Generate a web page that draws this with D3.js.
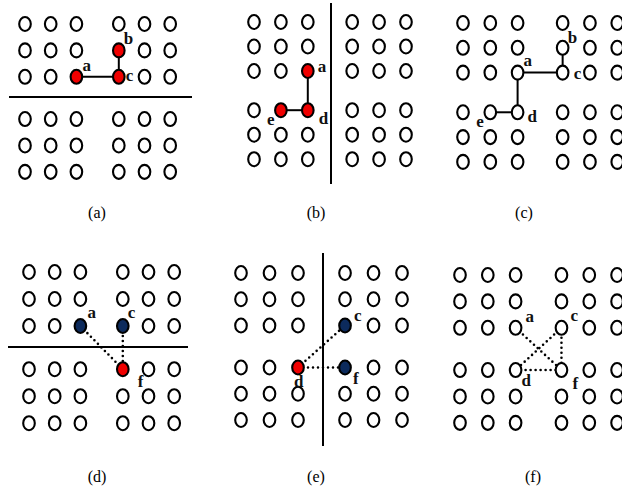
<!DOCTYPE html>
<html><head><meta charset="utf-8">
<script src="https://cdn.jsdelivr.net/npm/d3@7"></script>
<style>body{margin:0;background:#fff}svg{display:block}
text{font-family:"Liberation Serif","Times New Roman","DejaVu Serif",serif}</style>
</head><body>
<script>
// grid units of the 6x6 node lattice (gap between the two halves)
const colUnits = [0, 1, 2, 3.65, 4.65, 5.65];
const rowUnits = [0, 1, 2, 3.6, 4.6, 5.6];
const panelNames = ["(a)", "(b)", "(c)", "(d)", "(e)", "(f)"];
// highlighted nodes per panel: [name, col, row, fill]
const nodesA = [["a",2,2,"red"],["b",3,1,"red"],["c",3,2,"red"]];
const nodesB = [["a",2,2,"red"],["d",2,3,"red"],["e",1,3,"red"]];
const nodesC = [["a",2,2,"white"],["b",3,1,"white"],["c",3,2,"white"],["d",2,3,"white"],["e",1,3,"white"]];
const nodesD = [["a",2,2,"navy"],["c",3,2,"navy"],["f",3,3,"red"]];
const nodesE = [["c",3,2,"navy"],["d",2,3,"red"],["f",3,3,"navy"]];
const nodesF = [["a",2,2,"white"],["c",3,2,"white"],["d",2,3,"white"],["f",3,3,"white"]];
// edges per panel
const edgesA = [["a","c"],["c","b"]];
const edgesB = [["a","d"],["d","e"]];
const edgesC = [["a","c"],["c","b"],["a","d"],["d","e"]];
const edgesD = [["a","f"],["c","f"]];
const edgesE = [["d","c"],["d","f"]];
const edgesF = [["a","f"],["c","d"],["c","f"],["d","f"]];

const W = 622, H = 490;
const fills = {red:"#f00000", navy:"#0c2a5c", white:"#ffffff"};
const svg = d3.select("body").append("svg").attr("width", W).attr("height", H);

// layout (pixel placement of each panel)
const layout = [
  {x0:25, dx:25.7, y0:24, dy:26.4, cap:[97,218], sep:{o:"h", at:97, from:9, to:192}, dotted:false,
   lab:{a:[6,-6],b:[5,-6],c:[7,4]}},
  {x0:254, dx:26.9, y0:22, dy:24.5, cap:[316,218], sep:{o:"v", at:331, from:3, to:184}, dotted:false,
   lab:{a:[10,1],d:[11,14],e:[-14,15]}},
  {x0:463, dx:27.3, y0:23, dy:24.8, cap:[524,218], sep:null, dotted:false,
   lab:{a:[6,-7],b:[5,-5],c:[11,6],d:[10,10],e:[-14,15]}},
  {x0:29, dx:25.7, y0:272, dy:27, cap:[97,482], sep:{o:"h", at:347, from:8, to:188}, dotted:true,
   lab:{a:[7,-8],c:[5,-8],f:[15,18]}},
  {x0:241, dx:28.5, y0:273, dy:26.25, cap:[316,482], sep:{o:"v", at:323, from:253, to:446}, dotted:true,
   lab:{c:[9,-5],f:[8,16],d:[-4,19]}},
  {x0:460, dx:27.8, y0:275, dy:26.4, cap:[533,482], sep:null, dotted:true,
   lab:{a:[10,-6],c:[9,-7],d:[6,16],f:[11,19]}}
];
const panelNodes = [nodesA,nodesB,nodesC,nodesD,nodesE,nodesF];
const panelEdges = [edgesA,edgesB,edgesC,edgesD,edgesE,edgesF];

layout.forEach((L, i) => {
  const g = svg.append("g");
  const xs = d3.scaleLinear().domain([0,1]).range([L.x0, L.x0 + L.dx]);
  const ys = d3.scaleLinear().domain([0,1]).range([L.y0, L.y0 + L.dy]);
  const nodes = panelNodes[i];
  const byName = {};
  nodes.forEach(n => byName[n[0]] = n);
  // separator
  if (L.sep) {
    if (L.sep.o === "h") g.append("line").attr("x1", L.sep.from).attr("x2", L.sep.to)
      .attr("y1", L.sep.at).attr("y2", L.sep.at);
    else g.append("line").attr("y1", L.sep.from).attr("y2", L.sep.to)
      .attr("x1", L.sep.at).attr("x2", L.sep.at);
    g.select("line").attr("stroke", "#000").attr("stroke-width", 2);
  }
  // edges
  g.selectAll("line.e").data(panelEdges[i]).join("line").attr("class","e")
    .attr("x1", e => xs(colUnits[byName[e[0]][1]])).attr("y1", e => ys(rowUnits[byName[e[0]][2]]))
    .attr("x2", e => xs(colUnits[byName[e[1]][1]])).attr("y2", e => ys(rowUnits[byName[e[1]][2]]))
    .attr("stroke", "#000").attr("stroke-width", L.dotted ? 2.6 : 2)
    .attr("stroke-linecap", L.dotted ? "round" : "butt")
    .attr("stroke-dasharray", L.dotted ? "0,5" : null);
  // lattice
  const cells = [];
  colUnits.forEach((c, ci) => rowUnits.forEach((r, ri) => cells.push([ci, ri])));
  g.selectAll("ellipse").data(cells).join("ellipse")
    .attr("cx", d => xs(colUnits[d[0]])).attr("cy", d => ys(rowUnits[d[1]]))
    .attr("rx", 5.8).attr("ry", 7)
    .attr("fill", d => {
      const n = nodes.find(n => n[1] === d[0] && n[2] === d[1]);
      return n ? fills[n[3]] : "#fff";
    })
    .attr("stroke", "#000").attr("stroke-width", 2.1);
  // labels
  g.selectAll("text.l").data(nodes).join("text").attr("class","l")
    .attr("x", n => xs(colUnits[n[1]]) + L.lab[n[0]][0])
    .attr("y", n => ys(rowUnits[n[2]]) + L.lab[n[0]][1])
    .attr("font-weight", "bold").attr("font-size", 17).attr("fill", "#111")
    .text(n => n[0]);
  // caption
  g.append("text").attr("x", L.cap[0]).attr("y", L.cap[1]).attr("text-anchor", "middle")
    .attr("font-size", 16)
    .text(panelNames[i]);
});
</script>
</body></html>
